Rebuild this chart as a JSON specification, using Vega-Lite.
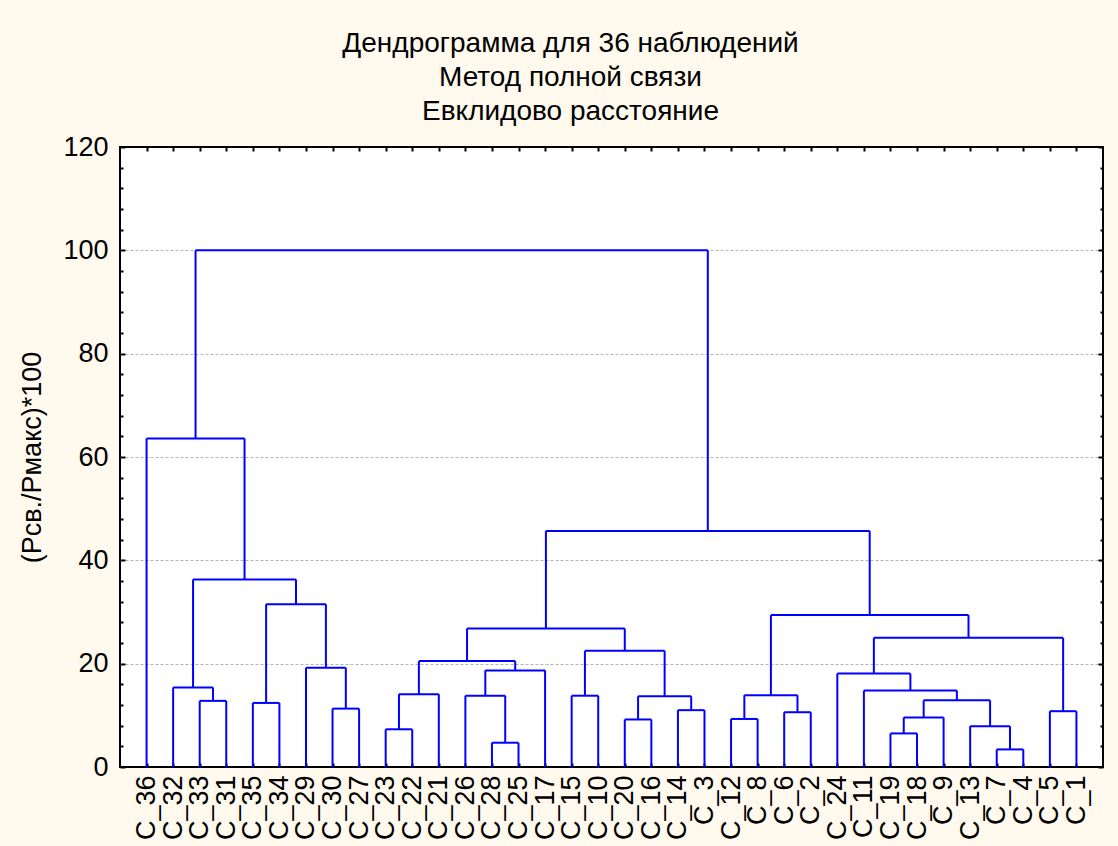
{
  "$schema": "https://vega.github.io/schema/vega-lite/v6.json",
  "width": 983,
  "height": 620,
  "autosize": {"type": "none"},
  "padding": {"left": 120, "top": 147, "right": 15, "bottom": 79},
  "background": "#FFF9EE",
  "config": {
    "view": {"stroke": "black", "strokeWidth": 2, "fill": "white"},
    "font": "Liberation Sans",
    "axis": {"labelFont": "Liberation Sans", "titleFont": "Liberation Sans", "labelColor": "black", "titleColor": "black", "tickColor": "black", "domain": false, "labelFlush": false, "labelOverlap": false}
  },
  "title": {
    "text": ["Дендрограмма для 36 наблюдений", "Метод полной связи", "Евклидово расстояние"],
    "font": "Liberation Sans",
    "fontSize": 28,
    "fontWeight": "normal",
    "color": "black",
    "anchor": "middle",
    "frame": "group",
    "dx": -41,
    "offset": 7,
    "lineHeight": 34
  },
  "data": {
    "values": [
      {"xl": 3, "xr": 4, "hl": 0, "hr": 0, "h": 12.8},
      {"xl": 2, "xr": 3.5, "hl": 0, "hr": 12.8, "h": 15.4},
      {"xl": 5, "xr": 6, "hl": 0, "hr": 0, "h": 12.4},
      {"xl": 8, "xr": 9, "hl": 0, "hr": 0, "h": 11.3},
      {"xl": 7, "xr": 8.5, "hl": 0, "hr": 11.3, "h": 19.2},
      {"xl": 5.5, "xr": 7.75, "hl": 12.4, "hr": 19.2, "h": 31.5},
      {"xl": 2.75, "xr": 6.625, "hl": 15.4, "hr": 31.5, "h": 36.3},
      {"xl": 1, "xr": 4.6875, "hl": 0, "hr": 36.3, "h": 63.6},
      {"xl": 10, "xr": 11, "hl": 0, "hr": 0, "h": 7.3},
      {"xl": 10.5, "xr": 12, "hl": 7.3, "hr": 0, "h": 14.1},
      {"xl": 14, "xr": 15, "hl": 0, "hr": 0, "h": 4.7},
      {"xl": 13, "xr": 14.5, "hl": 0, "hr": 4.7, "h": 13.8},
      {"xl": 13.75, "xr": 16, "hl": 13.8, "hr": 0, "h": 18.7},
      {"xl": 11.25, "xr": 14.875, "hl": 14.1, "hr": 18.7, "h": 20.5},
      {"xl": 17, "xr": 18, "hl": 0, "hr": 0, "h": 13.8},
      {"xl": 19, "xr": 20, "hl": 0, "hr": 0, "h": 9.2},
      {"xl": 21, "xr": 22, "hl": 0, "hr": 0, "h": 11.0},
      {"xl": 19.5, "xr": 21.5, "hl": 9.2, "hr": 11.0, "h": 13.7},
      {"xl": 17.5, "xr": 20.5, "hl": 13.8, "hr": 13.7, "h": 22.5},
      {"xl": 13.0625, "xr": 19, "hl": 20.5, "hr": 22.5, "h": 26.8},
      {"xl": 23, "xr": 24, "hl": 0, "hr": 0, "h": 9.3},
      {"xl": 25, "xr": 26, "hl": 0, "hr": 0, "h": 10.6},
      {"xl": 23.5, "xr": 25.5, "hl": 9.3, "hr": 10.6, "h": 13.9},
      {"xl": 29, "xr": 30, "hl": 0, "hr": 0, "h": 6.5},
      {"xl": 29.5, "xr": 31, "hl": 6.5, "hr": 0, "h": 9.6},
      {"xl": 33, "xr": 34, "hl": 0, "hr": 0, "h": 3.4},
      {"xl": 32, "xr": 33.5, "hl": 0, "hr": 3.4, "h": 7.9},
      {"xl": 30.25, "xr": 32.75, "hl": 9.6, "hr": 7.9, "h": 12.9},
      {"xl": 28, "xr": 31.5, "hl": 0, "hr": 12.9, "h": 14.8},
      {"xl": 27, "xr": 29.75, "hl": 0, "hr": 14.8, "h": 18.1},
      {"xl": 35, "xr": 36, "hl": 0, "hr": 0, "h": 10.8},
      {"xl": 28.375, "xr": 35.5, "hl": 18.1, "hr": 10.8, "h": 25.0},
      {"xl": 24.5, "xr": 31.9375, "hl": 13.9, "hr": 25.0, "h": 29.4},
      {"xl": 16.03125, "xr": 28.21875, "hl": 26.8, "hr": 29.4, "h": 45.7},
      {"xl": 2.84375, "xr": 22.125, "hl": 63.6, "hr": 45.7, "h": 100}
    ]
  },
  "resolve": {"axis": {"x": "independent", "y": "independent"}},
  "layer": [
    {
      "mark": {"type": "rule", "color": "#0000FF", "strokeWidth": 2},
      "encoding": {
        "x": {"field": "xl", "type": "quantitative",
          "scale": {"domain": [0, 37], "nice": false, "zero": false},
          "axis": {"orient": "bottom", "title": null,
            "values": [1,2,3,4,5,6,7,8,9,10,11,12,13,14,15,16,17,18,19,20,21,22,23,24,25,26,27,28,29,30,31,32,33,34,35,36],
            "labelExpr": "['C_36','C_32','C_33','C_31','C_35','C_34','C_29','C_30','C_27','C_23','C_22','C_21','C_26','C_28','C_25','C_17','C_15','C_10','C_20','C_16','C_14','C_3','C_12','C_8','C_6','C_2','C_24','C_11','C_19','C_18','C_9','C_13','C_7','C_4','C_5','C_1'][datum.value - 1]",
            "labelAngle": 270, "labelFontSize": 27, "tickSize": -4, "tickWidth": 2, "labelPadding": 12, "grid": false}},
        "x2": {"field": "xr"},
        "y": {"field": "h", "type": "quantitative",
          "scale": {"domain": [0, 120], "nice": false, "zero": false},
          "axis": {"orient": "left", "values": [0, 20, 40, 60, 80, 100, 120],
            "grid": true, "gridDash": [3, 2], "gridColor": "#b4b4b4", "gridWidth": 1,
            "gridOpacity": {"condition": {"test": "datum.value == 0 || datum.value == 120", "value": 0}, "value": 1},
            "tickSize": -5, "tickWidth": 2, "labelPadding": 17, "labelFontSize": 27,
            "title": "(Рсв./Рмакс)*100", "titleFontSize": 27, "titleFontWeight": "normal",
            "titleX": -88, "titleY": 310, "titleAngle": 270, "titleAlign": "center", "titleBaseline": "middle"}}
      }
    },
    {
      "mark": {"type": "rule", "color": "#0000FF", "strokeWidth": 2},
      "encoding": {
        "x": {"field": "xl", "type": "quantitative",
          "scale": {"domain": [0, 37], "nice": false, "zero": false},
          "axis": {"orient": "top", "title": null, "labels": false,
            "values": [1,2,3,4,5,6,7,8,9,10,11,12,13,14,15,16,17,18,19,20,21,22,23,24,25,26,27,28,29,30,31,32,33,34,35,36],
            "tickSize": -4, "tickWidth": 2, "grid": false}},
        "y": {"field": "hl", "type": "quantitative",
          "scale": {"domain": [0, 120], "nice": false, "zero": false},
          "axis": {"orient": "right", "title": null, "labels": false, "values": [0, 20, 40, 60, 80, 100, 120],
            "tickSize": -5, "tickWidth": 2, "grid": false}},
        "y2": {"field": "h"}
      }
    },
    {
      "mark": {"type": "rule", "color": "#0000FF", "strokeWidth": 2},
      "encoding": {
        "x": {"field": "xr", "type": "quantitative",
          "scale": {"domain": [0, 37], "nice": false, "zero": false},
          "axis": null},
        "y": {"field": "hr", "type": "quantitative",
          "scale": {"domain": [0, 120], "nice": false, "zero": false},
          "axis": {"orient": "left", "title": null, "labels": false,
            "values": [4, 8, 12, 16, 24, 28, 32, 36, 44, 48, 52, 56, 64, 68, 72, 76, 84, 88, 92, 96, 104, 108, 112, 116],
            "tickSize": -3, "tickWidth": 2, "grid": false}},
        "y2": {"field": "h"}
      }
    },
    {
      "mark": {"type": "rule", "opacity": 0},
      "encoding": {
        "x": {"field": "xl", "type": "quantitative",
          "scale": {"domain": [0, 37], "nice": false, "zero": false},
          "axis": null},
        "x2": {"field": "xr"},
        "y": {"field": "h", "type": "quantitative",
          "scale": {"domain": [0, 120], "nice": false, "zero": false},
          "axis": {"orient": "right", "title": null, "labels": false,
            "values": [4, 8, 12, 16, 24, 28, 32, 36, 44, 48, 52, 56, 64, 68, 72, 76, 84, 88, 92, 96, 104, 108, 112, 116],
            "tickSize": -3, "tickWidth": 2, "grid": false}}
      }
    }
  ]
}
